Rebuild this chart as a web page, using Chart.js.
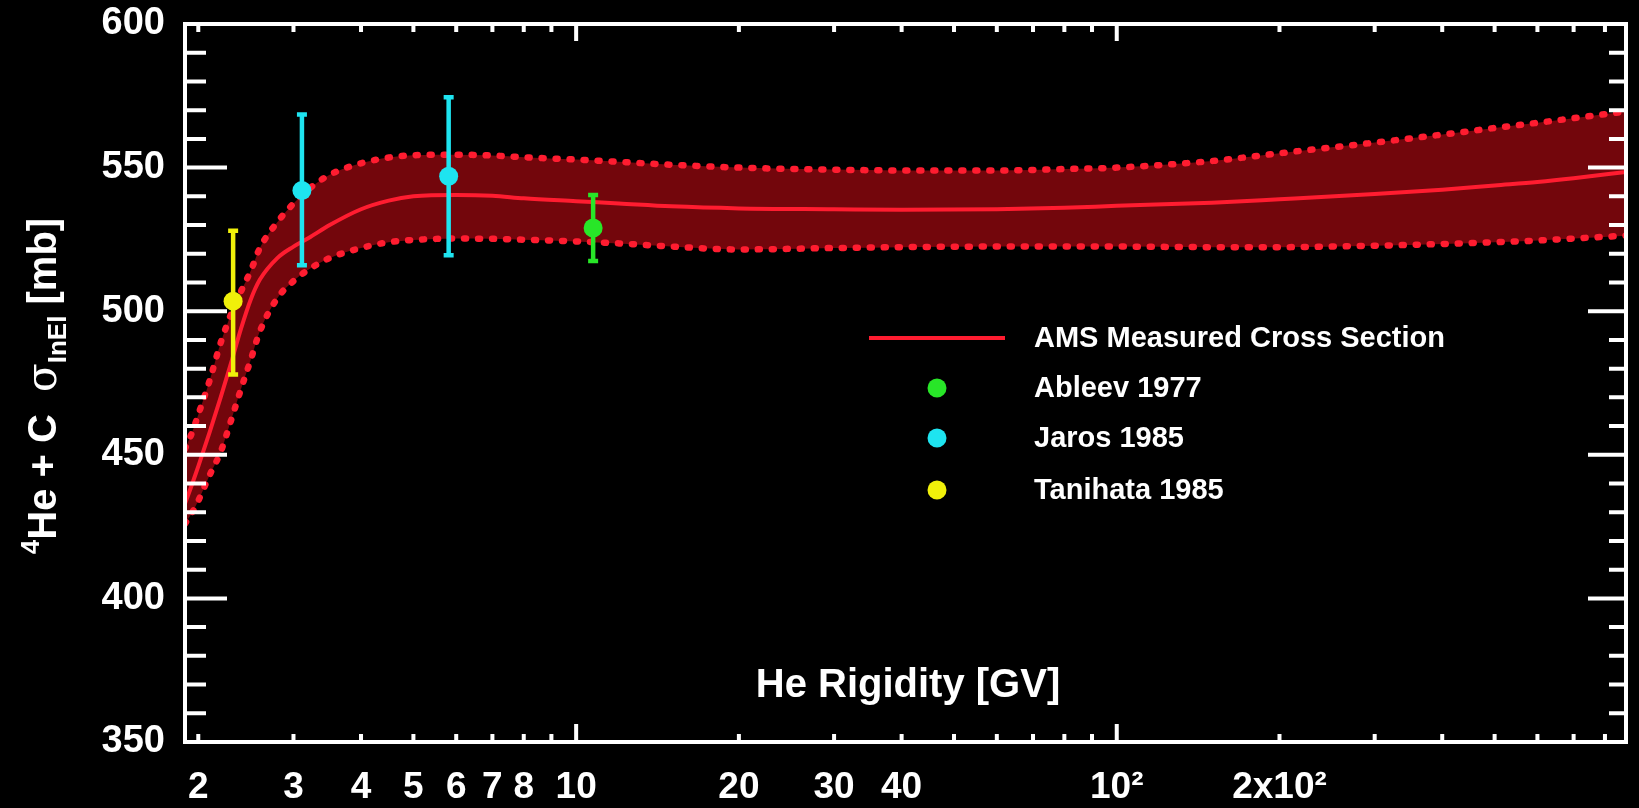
<!DOCTYPE html>
<html>
<head>
<meta charset="utf-8">
<style>
  html, body { margin: 0; padding: 0; background: #000; }
  canvas { display: block; }
</style>
<script src="https://cdn.jsdelivr.net/npm/chart.js@4.4.0/dist/chart.umd.min.js"></script>
</head>
<body>
<canvas id="sigma-he-c" width="1639" height="808"></canvas>
<script>
// AMS band (He rigidity in GV, cross section in mb)
const amsX   = [1.89, 1.95, 2.0, 2.1, 2.2, 2.3, 2.4, 2.5, 2.6, 2.8, 3.0, 3.2, 3.5, 4.0, 4.5, 5, 6, 7, 8, 10, 12, 15, 20, 30, 40, 60, 80, 100, 150, 200, 300, 400, 500, 600, 700, 875];
const amsMid = [433, 440, 446, 458, 470, 482, 494, 504, 511, 518.5, 522.5, 525.5, 530, 535.5, 538.5, 540, 540.5, 540.2, 539.3, 538.3, 537.5, 536.5, 535.8, 535.5, 535.3, 535.5, 536, 536.7, 537.8, 539, 540.8, 542.3, 543.8, 545, 546.3, 548.5];
const amsUp  = [452, 458, 464, 476, 489, 499, 507, 514, 522, 531, 537.5, 542.5, 547.5, 551.5, 553.5, 554.3, 554.5, 554.2, 553.6, 552.8, 552, 551, 550, 549.3, 549, 549, 549.5, 550, 552.3, 555, 558.7, 561.5, 563.8, 565.6, 567.2, 569.5];
const amsLow = [426, 430, 434, 443, 451, 462, 473, 483, 493, 504.5, 510.5, 514.5, 518.5, 522, 524, 524.8, 525.3, 525.2, 524.9, 524.3, 523.6, 522.5, 521.5, 522, 522.3, 522.5, 522.5, 522.5, 522.3, 522.3, 522.8, 523.4, 524, 524.6, 525.3, 526.3];

// older measurements
const ableevX = [10.75], ableevY = [529], ableevLo = [517.5], ableevHi = [540.5];
const jarosX = [3.11, 5.81], jarosY = [542, 547], jarosLo = [516, 519.5], jarosHi = [568.5, 574.5];
const tanihataX = [2.32], tanihataY = [503.5], tanihataLo = [478], tanihataHi = [528];

const legendLabels = ['AMS Measured Cross Section', 'Ableev 1977', 'Jaros 1985', 'Tanihata 1985'];

// axis ticks
const xMajor = [10, 100];
const xMinor = [2, 3, 4, 5, 6, 7, 8, 9, 20, 30, 40, 50, 60, 70, 80, 90, 200, 300, 400, 500, 600, 700, 800];
const xTickValues = [2, 3, 4, 5, 6, 7, 8, 10, 20, 30, 40, 100, 200];
const xTickLabels = ['2', '3', '4', '5', '6', '7', '8', '10', '20', '30', '40', '10²', '2x10²'];
const yTickValues = [350, 400, 450, 500, 550, 600];
const yMinor = [360, 370, 380, 390, 410, 420, 430, 440, 460, 470, 480, 490, 510, 520, 530, 540, 560, 570, 580, 590];

const RED = 'rgb(255, 28, 48)';
const GREEN = 'rgb(40, 230, 40)';
const CYAN = 'rgb(30, 228, 240)';
const YELLOW = 'rgb(240, 240, 10)';
const FONT = '"Liberation Sans", Arial, Helvetica, sans-serif';

function pts(xs, ys) {
    return xs.map((x, i) => ({ x: x, y: ys[i] }));
}

const errSets = [
    { xs: ableevX, lo: ableevLo, hi: ableevHi, color: GREEN },
    { xs: jarosX, lo: jarosLo, hi: jarosHi, color: CYAN },
    { xs: tanihataX, lo: tanihataLo, hi: tanihataHi, color: YELLOW }
];

const bgPlugin = {
    id: 'bg',
    beforeDraw(chart) {
        const c = chart.ctx;
        c.save();
        c.fillStyle = '#000';
        c.fillRect(0, 0, chart.width, chart.height);
        c.restore();
    }
};

// error bars go on top of the band but under the markers
const errorBars = {
    id: 'errorBars',
    afterDatasetDraw(chart, args) {
        if (args.index !== 2) return;
        const c = chart.ctx, xs = chart.scales.x, ys = chart.scales.y;
        c.save();
        errSets.forEach(s => {
            c.strokeStyle = s.color;
            c.lineWidth = 4.5;
            s.xs.forEach((x, i) => {
                const px = xs.getPixelForValue(x);
                const top = ys.getPixelForValue(s.hi[i]);
                const bot = ys.getPixelForValue(s.lo[i]);
                c.beginPath();
                c.moveTo(px, top); c.lineTo(px, bot);
                c.moveTo(px - 5, top); c.lineTo(px + 5, top);
                c.moveTo(px - 5, bot); c.lineTo(px + 5, bot);
                c.stroke();
            });
        });
        c.restore();
    }
};

const frameAndText = {
    id: 'frameAndText',
    afterDraw(chart) {
        const c = chart.ctx, a = chart.chartArea;
        const xs = chart.scales.x, ys = chart.scales.y;
        c.save();
        c.strokeStyle = '#fff';
        c.lineWidth = 4;
        c.strokeRect(a.left, a.top, a.right - a.left, a.bottom - a.top);

        c.beginPath();
        xMinor.forEach(v => {
            const px = xs.getPixelForValue(v);
            c.moveTo(px, a.bottom); c.lineTo(px, a.bottom - 8);
            c.moveTo(px, a.top); c.lineTo(px, a.top + 8);
        });
        xMajor.forEach(v => {
            const px = xs.getPixelForValue(v);
            c.moveTo(px, a.bottom); c.lineTo(px, a.bottom - 18);
            c.moveTo(px, a.top); c.lineTo(px, a.top + 17);
        });
        yMinor.forEach(v => {
            const py = ys.getPixelForValue(v);
            c.moveTo(a.left, py); c.lineTo(a.left + 21, py);
            c.moveTo(a.right, py); c.lineTo(a.right - 17, py);
        });
        yTickValues.forEach(v => {
            const py = ys.getPixelForValue(v);
            c.moveTo(a.left, py); c.lineTo(a.left + 42, py);
            c.moveTo(a.right, py); c.lineTo(a.right - 38, py);
        });
        c.stroke();

        // axis title for x, sits inside the frame
        c.fillStyle = '#fff';
        c.textAlign = 'center';
        c.textBaseline = 'middle';
        c.font = 'bold 40px ' + FONT;
        c.fillText('He Rigidity [GV]', 908, 686);

        // y axis title with super/subscripts
        const parts = [
            { t: '4', f: 'bold 26px ' + FONT, dy: -17 },
            { t: 'He + C  ', f: 'bold 40px ' + FONT, dy: 0 },
            { t: 'σ', f: '42px "DejaVu Serif", serif', dy: 0 },
            { t: 'InEl', f: 'bold 26px ' + FONT, dy: 10 },
            { t: ' [mb]', f: 'bold 40px ' + FONT, dy: 0 }
        ];
        let total = 0;
        parts.forEach(p => { c.font = p.f; p.w = c.measureText(p.t).width; total += p.w; });
        c.translate(56, 386);
        c.rotate(-Math.PI / 2);
        c.textAlign = 'left';
        c.textBaseline = 'alphabetic';
        let x0 = -total / 2;
        parts.forEach(p => {
            c.font = p.f;
            c.fillText(p.t, x0, p.dy);
            x0 += p.w;
        });
        c.restore();

        // legend
        c.save();
        c.strokeStyle = RED;
        c.lineWidth = 4;
        c.beginPath();
        c.moveTo(869, 338); c.lineTo(1005, 338);
        c.stroke();
        const rows = [338, 388, 438, 490];
        const dots = [null, GREEN, CYAN, YELLOW];
        c.font = 'bold 29px ' + FONT;
        c.textBaseline = 'middle';
        legendLabels.forEach((lab, i) => {
            if (dots[i]) {
                c.fillStyle = dots[i];
                c.beginPath();
                c.arc(937, rows[i], 9.5, 0, Math.PI * 2);
                c.fill();
            }
            c.fillStyle = '#fff';
            c.fillText(lab, 1034, rows[i] + 1);
        });
        c.restore();
    }
};

const bandStyle = {
    borderColor: RED,
    borderWidth: 6.5,
    borderDash: [2, 12],
    borderCapStyle: 'round',
    pointRadius: 0,
    cubicInterpolationMode: 'monotone'
};

const ctx = document.getElementById('sigma-he-c').getContext('2d');
const chartSigma = new Chart(ctx, {
    type: 'line',
    data: {
        datasets: [
            {
                label: 'Ableev 1977',
                data: pts(ableevX, ableevY),
                showLine: false,
                pointRadius: 9.5,
                pointBackgroundColor: GREEN,
                pointBorderWidth: 0,
                order: 0
            },
            {
                label: 'Jaros 1985',
                data: pts(jarosX, jarosY),
                showLine: false,
                pointRadius: 9.5,
                pointBackgroundColor: CYAN,
                pointBorderWidth: 0,
                order: 0
            },
            {
                label: 'AMS Measured Cross Section',
                data: pts(amsX, amsMid),
                borderColor: RED,
                borderWidth: 4,
                pointRadius: 0,
                cubicInterpolationMode: 'monotone',
                fill: false,
                order: 1
            },
            // upper edge carries the fill, drawn first so the lower dots stay on top
            Object.assign({
                label: 'AMS upper',
                data: pts(amsX, amsUp),
                fill: '+1',
                backgroundColor: 'rgb(115, 6, 12)',
                order: 3
            }, bandStyle),
            Object.assign({
                label: 'AMS lower',
                data: pts(amsX, amsLow),
                fill: false,
                order: 2
            }, bandStyle),
            {
                label: 'Tanihata 1985',
                data: pts(tanihataX, tanihataY),
                showLine: false,
                pointRadius: 9.5,
                pointBackgroundColor: YELLOW,
                pointBorderWidth: 0,
                order: 0
            }
        ]
    },
    options: {
        responsive: false,
        animation: false,
        layout: { padding: { left: 0, right: 13, top: 24, bottom: 0 } },
        plugins: {
            legend: { display: false },
            tooltip: { enabled: false }
        },
        scales: {
            x: {
                type: 'logarithmic',
                min: 1.89,
                max: 875,
                grid: { display: false, drawTicks: false },
                border: { display: false },
                afterBuildTicks: function (scale) {
                    scale.ticks = xTickValues.map(v => ({ value: v }));
                },
                afterFit: function (scale) {
                    scale.height = 66;
                    scale.paddingLeft = 0;
                    scale.paddingRight = 0;
                },
                ticks: {
                    autoSkip: false,
                    maxRotation: 0,
                    padding: 24,
                    color: '#fff',
                    font: { family: FONT, size: 37, weight: 'bold' },
                    callback: function (value) {
                        const i = xTickValues.indexOf(value);
                        return i >= 0 ? xTickLabels[i] : '';
                    }
                }
            },
            y: {
                min: 350,
                max: 600,
                grid: { display: false, drawTicks: false },
                border: { display: false },
                afterBuildTicks: function (scale) {
                    scale.ticks = yTickValues.map(v => ({ value: v }));
                },
                afterFit: function (scale) {
                    scale.width = 185;
                    scale.paddingTop = 0;
                    scale.paddingBottom = 0;
                },
                ticks: {
                    padding: 20,
                    color: '#fff',
                    font: { family: FONT, size: 38, weight: 'bold' }
                }
            }
        }
    },
    plugins: [bgPlugin, errorBars, frameAndText]
});
</script>
</body>
</html>
